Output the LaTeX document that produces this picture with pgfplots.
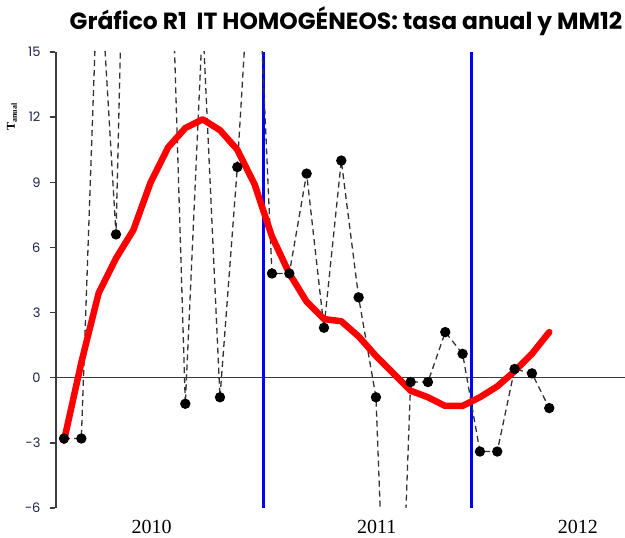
\documentclass[border=0pt]{standalone}
\usepackage{fontspec}
\setmainfont{Liberation Serif}
\newfontfamily\pop{Poppins}
\usepackage{pgfplots}
\pgfplotsset{compat=1.18}
\definecolor{tickc}{RGB}{25,35,75}
\definecolor{mmred}{RGB}{255,0,0}
\definecolor{vblue}{RGB}{0,0,255}
\definecolor{axc}{RGB}{60,60,60}
\begin{document}
\begin{tikzpicture}
\path[use as bounding box] (-55pt,-30pt) rectangle (570pt,508pt);
\begin{axis}[
  at={(0pt,0pt)}, anchor=south west,
  scale only axis, width=570pt, height=456pt,
  xmin=-0.52, xmax=32.37, ymin=-6, ymax=15,
  axis y line*=left, axis x line*=bottom,
  axis line style={draw=none},
  ytick={-6,-3,0,3,6,9,12,15},
  ytick style={draw=axc, line width=1.5pt},
  tick align=outside, major tick length=5pt,
  yticklabel style={font=\pop\fontsize{13}{15}\selectfont, text=tickc, xshift=-6pt},
  xtick={5.05,18.05,29.65}, xticklabels={2010,2011,2012},
  xtick style={draw=none},
  xticklabel style={font=\fontsize{20}{22}\selectfont, yshift=-4pt},
  /pgf/number format/assume math mode=true,
  clip=true,
]
\draw[axc, line width=1.5pt] (axis cs:-0.52,0) -- (axis cs:32.37,0);
\addplot[axc, line width=2pt, forget plot] coordinates {(-0.465,-6) (-0.465,15)};
\draw[vblue, line width=2.5pt] (axis cs:11.5,-6) -- (axis cs:11.5,15);
\draw[vblue, line width=2.5pt] (axis cs:23.5,-6) -- (axis cs:23.5,15);
\addplot[black!80, dash pattern=on 6pt off 4pt, line width=1.3pt, mark=*, mark size=4.5pt, mark options={solid, fill=black, draw=black}] coordinates {
(0,-2.8) (1,-2.8) (2,20) (3,6.6) (4,40) (5,35) (6,25) (7,-1.2) (8,16.5) (9,-0.9)
(10,9.7) (11,23) (12,4.8) (13,4.8) (14,9.4) (15,2.3) (16,10.0) (17,3.7) (18,-0.9) (19,-22)
(20,-0.2) (21,-0.2) (22,2.1) (23,1.1) (24,-3.4) (25,-3.4) (26,0.4) (27,0.2) (28,-1.4)
};
\addplot[mmred, line width=6.5pt, line cap=round, line join=round] coordinates {
(0,-2.9) (1,0.7) (2,3.9) (3,5.5) (4,6.8) (5,9.0) (6,10.6) (7,11.5) (8,11.9) (9,11.4)
(10,10.5) (11,8.9) (12,6.5) (13,4.8) (14,3.5) (15,2.7) (16,2.6) (17,1.9) (18,1.0) (19,0.2)
(20,-0.6) (21,-0.9) (22,-1.3) (23,-1.3) (24,-0.9) (25,-0.4) (26,0.3) (27,1.1) (28,2.1)
};
\end{axis}
\node[font=\pop\bfseries\fontsize{23.4}{26}\selectfont, anchor=center] at (291pt,487pt) {Gráfico R1\ \ IT HOMOGÉNEOS: tasa anual y MM12};
\node[rotate=90, font=\bfseries\fontsize{12}{13}\selectfont] at (-43pt,391pt) {T\textsubscript{anual}};
\end{tikzpicture}
\end{document}
